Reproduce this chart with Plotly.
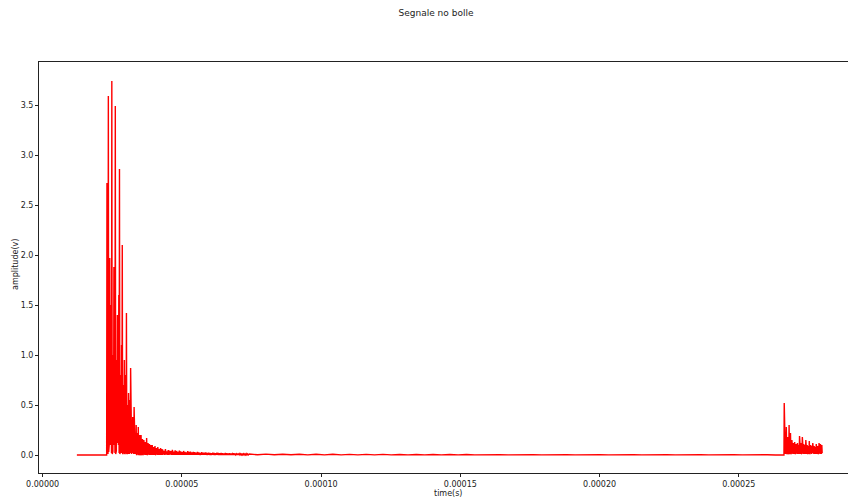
import numpy as np
import plotly.graph_objects as go

# ---- signal data (time in microseconds, amplitude in volts) ----
# idle baseline before the first echo
idle_t_us = [12.3, 23.0]
idle_v = [0.0, 0.0]

# first echo: alternating crest / trough samples, one every 0.125 us
burst1_t0_us = 23.1
burst1_dt_us = 0.125
burst1_peaks = [
    2.72, 0.90, 3.59, 1.30, 1.97, 0.95, 1.50, 3.74, 2.35, 1.00,
    1.88, 0.90, 3.49, 1.95, 0.95, 1.40, 0.85, 1.60, 2.86, 1.20,
    0.80, 1.10, 2.10, 1.35, 0.70, 0.95, 0.60, 0.80, 1.42, 0.75,
    0.50, 0.62, 0.42, 0.55, 0.87, 0.45, 0.32, 0.38, 0.28, 0.48,
    0.26, 0.22, 0.30, 0.18, 0.22, 0.28, 0.16, 0.20, 0.14, 0.20,
    0.12, 0.16, 0.11, 0.15, 0.10, 0.13, 0.09, 0.17, 0.09, 0.12,
    0.08, 0.11, 0.07, 0.10, 0.07, 0.10, 0.06, 0.08, 0.06, 0.09,
    0.05, 0.07, 0.05, 0.08, 0.05, 0.06, 0.04, 0.07, 0.04, 0.06,
]
burst1_troughs = [
    0.02, 0.01, 0.03, 0.12, 0.10, 0.15, 0.02, 0.01, 0.03, 0.10,
    0.14, 0.02, 0.01, 0.04, 0.12, 0.15, 0.10, 0.02, 0.01, 0.03,
    0.02, 0.08, 0.01, 0.02, 0.03, 0.01, 0.02, 0.05, 0.01, 0.02,
    0.01, 0.03, 0.01, 0.02, 0.01, 0.01, 0.02, 0.01, 0.01, 0.02,
    0.01, 0.01, 0.00, 0.01, 0.01, 0.00, 0.01, 0.00, 0.01, 0.00,
    0.01, 0.00, 0.01, 0.00, 0.00, 0.01, 0.00, 0.00, 0.01, 0.00,
    0.00, 0.01, 0.00, 0.00, 0.00, 0.01, 0.00, 0.00, 0.00, 0.00,
    0.01, 0.00, 0.00, 0.00, 0.00, 0.00, 0.00, 0.00, 0.00, 0.00,
]

# decaying ring-down after the first echo, one sample every 0.25 us
tail_t0_us = 43.1
tail_dt_us = 0.25
tail_peaks = [
    0.055, 0.040, 0.060, 0.035, 0.050, 0.045, 0.038, 0.052, 0.033, 0.046,
    0.040, 0.030, 0.044, 0.036, 0.028, 0.040, 0.032, 0.026, 0.038, 0.030,
    0.034, 0.025, 0.032, 0.028, 0.022, 0.030, 0.026, 0.020, 0.028, 0.024,
    0.022, 0.026, 0.019, 0.024, 0.021, 0.018, 0.023, 0.020, 0.017, 0.022,
    0.019, 0.016, 0.020, 0.018, 0.015, 0.019, 0.016, 0.014, 0.018, 0.015,
    0.013, 0.016, 0.014, 0.012, 0.015, 0.013, 0.012, 0.014, 0.012, 0.011,
    0.013, 0.011,
]
tail_troughs = [
    0.004, 0.002, 0.003, 0.001, 0.002, 0.003, 0.001, 0.002, 0.002, 0.001,
    0.002, 0.001, 0.002, 0.001, 0.001, 0.002, 0.001, 0.001, 0.002, 0.001,
    0.001, 0.001, 0.002, 0.001, 0.001, 0.001, 0.001, 0.001, 0.001, 0.001,
    0.001, 0.001, 0.001, 0.001, 0.001, 0.001, 0.001, 0.001, 0.001, 0.001,
    0.001, 0.001, 0.001, 0.001, 0.001, 0.001, 0.001, 0.001, 0.001, 0.001,
    0.001, 0.001, 0.001, 0.001, 0.001, 0.001, 0.001, 0.001, 0.001, 0.001,
    0.001, 0.001,
]

# residual noise floor between the two echoes, one sample every 3 us
floor_t0_us = 74.2
floor_dt_us = 3.0
floor_v = [
    0.010, 0.002, 0.009, 0.002, 0.008, 0.002, 0.008, 0.001, 0.007, 0.001,
    0.007, 0.001, 0.006, 0.001, 0.006, 0.001, 0.006, 0.001, 0.005, 0.001,
    0.005, 0.001, 0.005, 0.001, 0.005, 0.001, 0.005, 0.001, 0.004, 0.001,
    0.004, 0.001, 0.004, 0.001, 0.004, 0.001, 0.004, 0.001, 0.004, 0.001,
    0.004, 0.001, 0.004, 0.001, 0.004, 0.001, 0.004, 0.001, 0.004, 0.001,
    0.004, 0.001, 0.004, 0.001, 0.004, 0.001, 0.004, 0.001, 0.003, 0.001,
    0.003, 0.001, 0.002, 0.000, 0.000,
]

# second (weaker) echo, one sample every 0.125 us
burst2_t0_us = 266.3
burst2_dt_us = 0.125
burst2_peaks = [
    0.52, 0.35, 0.20, 0.28, 0.12, 0.18, 0.10, 0.30, 0.14, 0.22,
    0.09, 0.15, 0.08, 0.12, 0.07, 0.13, 0.08, 0.11, 0.07, 0.12,
    0.08, 0.10, 0.19, 0.09, 0.12, 0.07, 0.18, 0.09, 0.11, 0.07,
    0.10, 0.15, 0.08, 0.10, 0.07, 0.09, 0.14, 0.08, 0.10, 0.06,
    0.09, 0.12, 0.07, 0.09, 0.06, 0.08, 0.11, 0.07, 0.09, 0.06,
    0.12, 0.08, 0.11, 0.07, 0.10,
]
burst2_troughs = [
    0.02, 0.01, 0.03, 0.01, 0.02, 0.01, 0.02, 0.01, 0.03, 0.01,
    0.02, 0.01, 0.01, 0.02, 0.01, 0.01, 0.02, 0.01, 0.01, 0.02,
    0.01, 0.01, 0.02, 0.01, 0.01, 0.02, 0.01, 0.01, 0.02, 0.01,
    0.01, 0.02, 0.01, 0.01, 0.02, 0.01, 0.01, 0.02, 0.01, 0.01,
    0.02, 0.01, 0.01, 0.02, 0.01, 0.01, 0.02, 0.01, 0.01, 0.02,
    0.01, 0.01, 0.02, 0.01, 0.02,
]

x_ticks = [0.0, 0.00005, 0.0001, 0.00015, 0.0002, 0.00025]
x_tick_labels = ["0.00000", "0.00005", "0.00010", "0.00015", "0.00020", "0.00025"]
y_ticks = [0.0, 0.5, 1.0, 1.5, 2.0, 2.5, 3.0, 3.5]
y_tick_labels = ["0.0", "0.5", "1.0", "1.5", "2.0", "2.5", "3.0", "3.5"]


def interleave(t0, dt, crests, troughs):
    vals = np.empty(len(crests) + len(troughs))
    vals[0::2] = crests
    vals[1::2] = troughs
    t = t0 + dt * np.arange(len(vals))
    return t, vals


seg_t, seg_v = [np.array(idle_t_us)], [np.array(idle_v)]
for t0, dt, p, q in [
    (burst1_t0_us, burst1_dt_us, burst1_peaks, burst1_troughs),
    (tail_t0_us, tail_dt_us, tail_peaks, tail_troughs),
]:
    t, v = interleave(t0, dt, p, q)
    seg_t.append(t)
    seg_v.append(v)
seg_t.append(floor_t0_us + floor_dt_us * np.arange(len(floor_v)))
seg_v.append(np.array(floor_v))
t, v = interleave(burst2_t0_us, burst2_dt_us, burst2_peaks, burst2_troughs)
seg_t.append(t)
seg_v.append(v)

time_s = np.concatenate(seg_t) * 1e-6
amp_v = np.concatenate(seg_v)

FONT = "DejaVu Sans"
INK = "#222222"

fig = go.Figure(
    go.Scatter(
        x=time_s,
        y=amp_v,
        mode="lines",
        line=dict(color="#ff0000", width=1.4),
        hoverinfo="skip",
    )
)

fig.update_layout(
    width=848,
    height=499,
    margin=dict(l=39, r=0, t=62, b=26),
    paper_bgcolor="white",
    plot_bgcolor="white",
    showlegend=False,
    font=dict(family=FONT, size=8, color=INK),
    title=dict(
        text="Segnale no bolle",
        x=436 / 848,
        xref="container",
        xanchor="center",
        y=1 - 13 / 499,
        yref="container",
        yanchor="middle",
        font=dict(family=FONT, size=9, color=INK),
    ),
    xaxis=dict(
        range=[-1.3e-6, 2.892e-4],
        tickmode="array",
        tickvals=x_ticks,
        ticktext=x_tick_labels,
        ticks="outside",
        ticklen=3,
        tickwidth=1,
        tickcolor=INK,
        showline=True,
        linecolor=INK,
        linewidth=1,
        mirror=True,
        showgrid=False,
        zeroline=False,
        tickfont=dict(family=FONT, size=8, color=INK),
    ),
    yaxis=dict(
        range=[-0.18, 3.93],
        tickmode="array",
        tickvals=y_ticks,
        ticktext=y_tick_labels,
        ticks="outside",
        ticklen=3,
        tickwidth=1,
        tickcolor=INK,
        showline=True,
        linecolor=INK,
        linewidth=1,
        showgrid=False,
        zeroline=False,
        tickfont=dict(family=FONT, size=8, color=INK),
    ),
    annotations=[
        dict(
            text="time(s)",
            xref="paper", yref="paper",
            x=(448 - 39) / 809, y=(473 - 493) / 411,
            xanchor="center", yanchor="middle",
            showarrow=False,
            font=dict(family=FONT, size=8, color=INK),
        ),
        dict(
            text="amplitude(v)",
            xref="paper", yref="paper",
            x=(15 - 39) / 809, y=(473 - 265) / 411,
            xanchor="center", yanchor="middle",
            textangle=-90,
            showarrow=False,
            font=dict(family=FONT, size=8, color=INK),
        ),
    ],
)

fig.write_html("out.html")
